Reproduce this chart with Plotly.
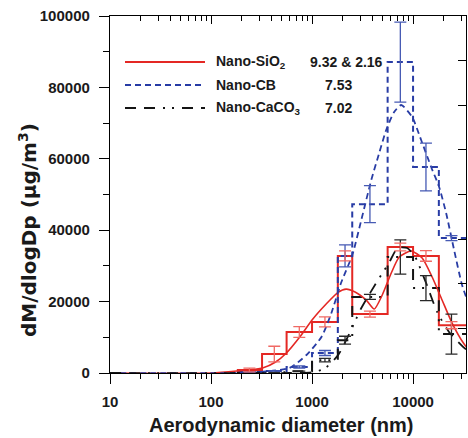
import plotly.graph_objects as go

# ---- data ----
edges = [180, 320, 560, 1000, 1800, 2500, 5600, 10000, 18000, 40000]
centers = [240, 423, 748, 1342, 2121, 3742, 7483, 13416, 24000]

sio2_vals = [840, 5300, 11500, 14300, 32800, 16500, 35300, 32800, 13400]
sio2_err = [500, 2200, 1500, 1400, 1400, 850, 1100, 1500, 1000]
cb_vals = [280, 560, 1700, 5600, 32800, 47300, 87100, 57700, 37800]
cb_err = [0, 0, 300, 700, 3100, 5200, 11200, 6700, 700]
caco3_vals = [100, 200, 500, 3600, 9200, 21300, 32500, 23800, 10900]
caco3_err = [0, 0, 0, 500, 1100, 700, 4800, 3500, 5600]

sio2_fit_x = [10, 100, 179, 324, 436, 558, 752, 1009, 1387, 1810, 2172, 2666, 3444, 4130,
              4955, 6085, 7300, 9575, 12300, 15450, 19370, 24320, 31990, 35800]
sio2_fit_y = [0, 0, 560, 1400, 3080, 5600, 10000, 15000, 19400, 22600, 23500, 22700, 20400, 17930,
              21850, 28010, 32490, 34170, 32210, 26890, 20450, 14000, 8120, 6440]
cb_fit_x = [10, 150, 303, 598, 881, 1239, 1555, 1952, 2506, 3074, 3858, 4625, 5420, 6500,
            7633, 9800, 12020, 15100, 18120, 21240, 25480, 30550, 35800]
cb_fit_y = [0, 0, 280, 1400, 5040, 10080, 16810, 25490, 33050, 42860, 54060, 61620, 68060, 73100,
            75070, 71700, 65260, 57700, 52100, 44820, 34450, 24650, 19050]
caco3_fit_x = [10, 600, 1000, 1325, 1810, 2339, 3074, 4625, 5810, 7020, 8750, 10500, 12500, 13770,
               17300, 22700, 30550, 35800]
caco3_fit_y = [0, 0, 200, 1200, 5000, 11000, 18200, 26600, 31000, 35000, 35000, 32500, 27500, 24500,
               17100, 11500, 7600, 5900]

names = ["Nano-SiO<sub>2</sub>", "Nano-CB", "Nano-CaCO<sub>3</sub>"]
mmad = ["9.32 & 2.16", "7.53", "7.02"]

yticks = [0, 20000, 40000, 60000, 80000, 100000]
xticks = [10, 100, 1000, 10000]

RED = "rgb(228,40,36)"
RED_E = "rgb(240,105,100)"
BLUE = "rgb(40,60,165)"
BLUE_E = "rgb(70,90,180)"
BLACK = "rgb(20,20,20)"
BLACK_E = "rgb(40,40,40)"
BLACK_DASH = "11px,8px,11px,8px,2px,7px,2px,8px"
BLUE_DASH = "6px,4px"

fig = go.Figure()

def step(vals):
    return vals + [vals[-1]]

# step histograms
fig.add_trace(go.Scatter(x=edges, y=step(sio2_vals), mode="lines", line_shape="hv",
                         line=dict(color=RED, width=2)))
fig.add_trace(go.Scatter(x=edges, y=step(cb_vals), mode="lines", line_shape="hv",
                         line=dict(color=BLUE, width=2, dash=BLUE_DASH)))
fig.add_trace(go.Scatter(x=edges, y=step(caco3_vals), mode="lines", line_shape="hv",
                         line=dict(color=BLACK, width=2, dash=BLACK_DASH)))

# fitted curves
fig.add_trace(go.Scatter(x=sio2_fit_x, y=sio2_fit_y, mode="lines", line_shape="spline",
                         line=dict(color=RED, width=1.6, smoothing=0.6)))
fig.add_trace(go.Scatter(x=cb_fit_x, y=cb_fit_y, mode="lines", line_shape="spline",
                         line=dict(color=BLUE, width=1.8, dash=BLUE_DASH, smoothing=0.6)))
fig.add_trace(go.Scatter(x=caco3_fit_x, y=caco3_fit_y, mode="lines", line_shape="spline",
                         line=dict(color=BLACK, width=1.8, dash=BLACK_DASH, smoothing=0.6)))

# error bars
for vals, err, col in [(caco3_vals, caco3_err, BLACK_E), (cb_vals, cb_err, BLUE_E),
                       (sio2_vals, sio2_err, RED_E)]:
    fig.add_trace(go.Scatter(x=centers, y=vals, mode="markers",
                             marker=dict(size=1, color="rgba(0,0,0,0)"),
                             error_y=dict(type="data", array=err, visible=True,
                                          color=col, thickness=1.3, width=6)))

# dummy trace for mirrored axes
fig.add_trace(go.Scatter(x=[10], y=[0], xaxis="x2", yaxis="y2", mode="markers",
                         marker=dict(size=1, color="rgba(0,0,0,0)"), hoverinfo="skip"))

minor_x = [m * 10 ** d for d in range(1, 5) for m in range(2, 10)]

font_t = dict(family="Liberation Sans", size=15, color="#1a1a1a", weight="bold")

fig.update_layout(
    width=468, height=438,
    margin=dict(l=110, r=2, t=16, b=65),
    plot_bgcolor="white", paper_bgcolor="white",
    showlegend=False,
    xaxis=dict(type="log", range=[1, 4.524], tickvals=xticks, ticktext=[str(v) for v in xticks],
               ticks="outside", ticklen=10, tickwidth=1.3, tickcolor="black",
               showline=True, linecolor="black", linewidth=1.3,
               showgrid=False, zeroline=False, tickfont=font_t, ticklabelstandoff=5,
               minor=dict(tickvals=minor_x, ticks="outside", ticklen=5, tickcolor="black",
                          tickwidth=1.1, showgrid=False)),
    yaxis=dict(range=[0, 100000], tickvals=yticks, ticktext=[str(v) for v in yticks],
               ticks="outside", ticklen=10, tickwidth=1.3, tickcolor="black",
               showline=True, linecolor="black", linewidth=1.3,
               showgrid=False, zeroline=False, tickfont=font_t, ticklabelstandoff=6,
               minor=dict(dtick=10000, ticks="outside", ticklen=6, tickcolor="black",
                          tickwidth=1.1, showgrid=False)),
    xaxis2=dict(type="log", range=[1, 4.524], overlaying="x", side="top", anchor="y",
                tickvals=xticks, ticks="inside", ticklen=8, tickwidth=1.2, tickcolor="black",
                showticklabels=False, showline=True, linecolor="black", linewidth=1.3,
                showgrid=False, zeroline=False,
                minor=dict(tickvals=minor_x, ticks="inside", ticklen=5, tickcolor="black",
                           tickwidth=1.1, showgrid=False)),
    yaxis2=dict(range=[0, 100000], overlaying="y", side="right", anchor="x",
                dtick=12500, ticks="inside", ticklen=8, tickwidth=1.2, tickcolor="black",
                showticklabels=False, showline=True, linecolor="black", linewidth=1.3,
                showgrid=False, zeroline=False),
)

# legend drawn manually
W = 356.0
H = 357.0
def px_x(p):
    return (p - 110) / W
def px_y(p):
    return (373 - p) / H

rows_y = [62, 85, 108]
styles = [dict(color=RED, width=2), dict(color=BLUE, width=2, dash=BLUE_DASH),
          dict(color=BLACK, width=2, dash=BLACK_DASH)]
num_cx = [346, 338, 338]
for i in range(3):
    fig.add_shape(type="line", xref="paper", yref="paper",
                  x0=px_x(125), x1=px_x(205), y0=px_y(rows_y[i]), y1=px_y(rows_y[i]),
                  line=styles[i])
    fig.add_annotation(xref="paper", yref="paper", x=px_x(214), y=px_y(rows_y[i]),
                       text="<b>%s</b>" % names[i], showarrow=False, xanchor="left",
                       yanchor="middle",
                       font=dict(family="Liberation Sans", size=14, color="#1a1a1a"))
    fig.add_annotation(xref="paper", yref="paper", x=px_x(num_cx[i]), y=px_y(rows_y[i]),
                       text="<b>%s</b>" % mmad[i], showarrow=False, xanchor="center",
                       yanchor="middle",
                       font=dict(family="Liberation Sans", size=14, color="#1a1a1a"))

# axis titles
fig.add_annotation(xref="paper", yref="paper", x=px_x(281), y=px_y(425),
                   text="<b>Aerodynamic diameter (nm)</b>", showarrow=False,
                   xanchor="center", yanchor="middle",
                   font=dict(family="Liberation Sans", size=20, color="#1a1a1a"))
fig.add_annotation(xref="paper", yref="paper", x=px_x(28), y=px_y(230),
                   text="<b>dM/dlogDp (μg/m<sup>3</sup>)</b>", showarrow=False,
                   textangle=-90, xanchor="center", yanchor="middle",
                   font=dict(family="DejaVu Sans", size=20, color="#1a1a1a"))

fig.write_html("out.html")
